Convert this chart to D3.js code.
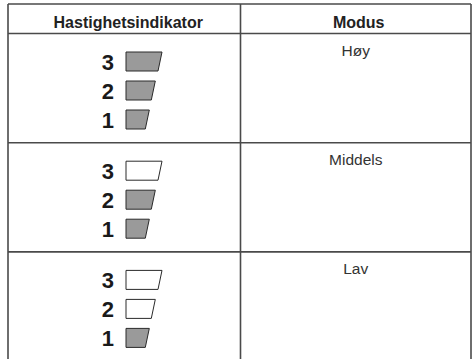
<!DOCTYPE html>
<html><head><meta charset="utf-8">
<script src="https://cdn.jsdelivr.net/npm/d3@7"></script>
<style>html,body{margin:0;padding:0;background:#fff;}svg{display:block;}</style>
</head><body>
<svg id="c" width="474" height="359"></svg>
<script>
const headers = ["Hastighetsindikator", "Modus"];
const modes = ["Høy", "Middels", "Lav"];
const activeLevels = [3, 2, 1];        // bars filled (from level 1 up) per mode
const levels = [3, 2, 1];              // indicator levels top to bottom
const barTopWidth = [23.3, 29.3, 36];  // for level 1,2,3 (index level-1)

const svg = d3.select("#c");
const tLeft = 8, tRight = 471, tTop = 4, headerBottom = 33.5, colDiv = 240.5;
const rowH = 109.2;
const font = "Liberation Sans, Arial, Helvetica, sans-serif";

const y = d3.scaleBand().domain(modes).range([headerBottom, headerBottom + rowH * modes.length]).padding(0);
const lineCol = "#4a4a4a";

// header text
svg.append("text").attr("x", (tLeft + colDiv) / 2 + 4).attr("y", 27.5)
  .attr("text-anchor", "middle").attr("font-family", font)
  .attr("font-weight", "bold").attr("font-size", 16).attr("fill", "#222").text(headers[0]);
svg.append("text").attr("x", (colDiv + tRight) / 2 + 3).attr("y", 27.5)
  .attr("text-anchor", "middle").attr("font-family", font)
  .attr("font-weight", "bold").attr("font-size", 16).attr("fill", "#222").text(headers[1]);

const rows = svg.selectAll("g.row").data(modes).join("g").attr("class", "row")
  .attr("transform", d => `translate(0,${y(d)})`);

rows.append("text").attr("x", (colDiv + tRight) / 2).attr("y", 22)
  .attr("text-anchor", "middle").attr("font-family", font)
  .attr("font-size", 15.5).attr("fill", "#333").text(d => d);

const lvY = d3.scalePoint().domain(levels).range([36, 94]);

rows.each(function(mode, i) {
  const g = d3.select(this);
  const active = activeLevels[i];
  levels.forEach(lv => {
    const base = lvY(lv);
    g.append("text").attr("x", 114).attr("y", base)
      .attr("text-anchor", "end").attr("font-family", font)
      .attr("font-weight", "bold").attr("font-size", 22).attr("fill", "#1a1a1a").text(lv);
    const w = barTopWidth[lv - 1];
    const x0 = 126, yt = base - 17.5, yb = base + 1.5, slant = 4;
    g.append("path")
      .attr("d", `M${x0},${yt}L${x0 + w},${yt}L${x0 + w - slant},${yb}L${x0},${yb}Z`)
      .attr("fill", lv <= active ? "#9a9a9a" : "#ffffff")
      .attr("stroke", "#2a2a2a").attr("stroke-width", 1);
  });
});

// grid lines
const hl = [tTop, headerBottom].concat(modes.slice(1).map(m => y(m)));
svg.selectAll("line.h").data(hl).join("line").attr("class", "h")
  .attr("x1", tLeft).attr("x2", tRight).attr("y1", d => d).attr("y2", d => d)
  .attr("stroke", lineCol).attr("stroke-width", 1.6);
svg.selectAll("line.v").data([tLeft, colDiv, tRight]).join("line").attr("class", "v")
  .attr("x1", d => d).attr("x2", d => d).attr("y1", tTop).attr("y2", 359)
  .attr("stroke", lineCol).attr("stroke-width", 1.6);
</script>
</body></html>
